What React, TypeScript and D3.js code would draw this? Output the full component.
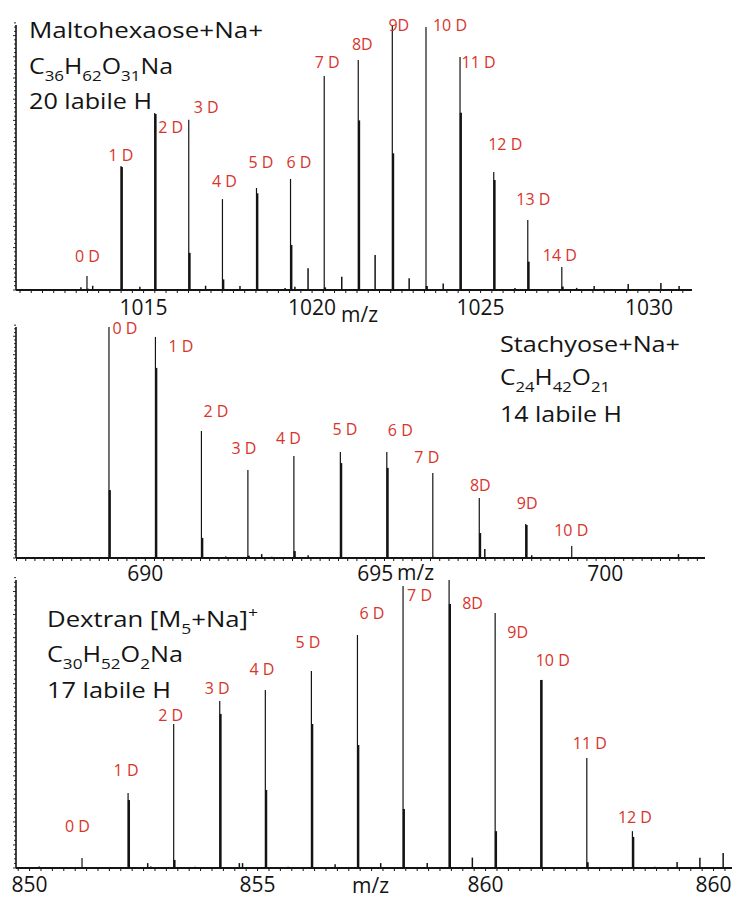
import React from "react";
import * as d3 from "d3";

// ---------------- DATA ----------------
// Panel 1: Maltohexaose+Na+
const topLabels = ["0 D", "1 D", "2 D", "3 D", "4 D", "5 D", "6 D", "7 D", "8D", "9D", "10 D", "11 D", "12 D", "13 D", "14 D"];
const topMz = [1013.32, 1014.33, 1015.33, 1016.34, 1017.34, 1018.35, 1019.36, 1020.36, 1021.37, 1022.38, 1023.38, 1024.39, 1025.39, 1026.4, 1027.41];
const topMain = [5.3, 46.8, 66.8, 64.2, 34.3, 38.5, 41.9, 80.8, 86.8, 100, 99.2, 87.9, 44.5, 26.4, 8.7];
const topShoulder = [0.5, 46.4, 66.4, 14, 4, 36.5, 17, 1, 64, 51.6, 1.5, 66.9, 41.5, 10.7, 1.3];
const topMinorMz = [1013.14, 1013.49, 1014.89, 1016.84, 1017.86, 1019.2, 1019.49, 1019.88, 1020.88, 1021.87, 1022.88, 1023.89, 1026.02, 1027.85, 1028.37, 1029.38, 1030.35, 1030.89];
const topMinorInt = [1.0, 1.6, 1.2, 1.6, 1.5, 0.8, 1.2, 8.2, 5.0, 13.2, 4.4, 2.5, 0.8, 0.8, 1.5, 2.3, 2.6, 1.5];
const topTicks = [1015, 1020, 1025, 1030];
const topTickLabels = ["1015", "1020", "1025", "1030"];

// Panel 2: Stachyose+Na+
const midLabels = ["0 D", "1 D", "2 D", "3 D", "4 D", "5 D", "6 D", "7 D", "8D", "9D", "10 D"];
const midMz = [689.21, 690.22, 691.22, 692.23, 693.23, 694.24, 695.25, 696.25, 697.26, 698.27, 699.27];
const midMain = [100, 95.7, 55, 38.1, 44.2, 45.9, 45.9, 36.8, 26, 14.7, 5.2];
const midShoulder = [29.4, 82.3, 8.7, 1, 3, 41.1, 39, 0.5, 10.8, 14.3, 0];
const midMinorMz = [691.75, 692.53, 692.75, 693.54, 697.38, 698.4, 700.28, 701.59];
const midMinorInt = [0.7, 1.7, 0.5, 1.2, 3.9, 1.2, 0.4, 1.7];
const midTicks = [690, 695, 700];
const midTickLabels = ["690", "695", "700"];

// Panel 3: Dextran [M5+Na]+
const botLabels = ["0 D", "1 D", "2 D", "3 D", "4 D", "5 D", "6 D", "7 D", "8D", "9D", "10 D", "11 D", "12 D"];
const botMz = [851.15, 852.16, 853.16, 854.17, 855.17, 856.18, 857.19, 858.19, 859.2, 860.21, 861.21, 862.22, 863.22];
const botMain = [3.5, 26, 50, 58, 61.8, 68.4, 80.9, 97.9, 100, 88.5, 65.3, 38.2, 12.8];
const botShoulder = [0, 23.6, 2.8, 53.5, 27.1, 50, 42.7, 20.5, 91.7, 12.8, 65.3, 2, 10.8];
const botMinorMz = [850.21, 852.59, 852.66, 853.63, 854.6, 854.67, 855.67, 856.7, 857.7, 858.72, 859.71, 863.71, 864.2, 864.7, 865.21];
const botMinorInt = [0.5, 1.7, 0.5, 0.4, 1.7, 1.7, 0.4, 1.3, 1.7, 1.7, 3.6, 0.4, 2.1, 3.6, 5.2];
const botTicks = [850, 855, 860, 865];
const botTickLabels = ["850", "855", "860", "860"];

// ---------------- LAYOUT ----------------
const W = 732;
const H = 899;
const RED = "#d8342c";
const INK = "#141414";
const FONT = "'Open Sans', 'Noto Sans', sans-serif";

type Seg = { t: string; k?: "sub" | "sup" };
type TitleLine = { segs: Seg[]; x: number; y: number; w: number };

const topTitle: TitleLine[] = [
  { segs: [{ t: "Maltohexaose+Na+" }], x: 29, y: 38, w: 234 },
  { segs: [{ t: "C" }, { t: "36", k: "sub" }, { t: "H" }, { t: "62", k: "sub" }, { t: "O" }, { t: "31", k: "sub" }, { t: "Na" }], x: 29, y: 74, w: 144 },
  { segs: [{ t: "20 labile H" }], x: 29, y: 109, w: 123 },
];
const midTitle: TitleLine[] = [
  { segs: [{ t: "Stachyose+Na+" }], x: 500, y: 352, w: 180 },
  { segs: [{ t: "C" }, { t: "24", k: "sub" }, { t: "H" }, { t: "42", k: "sub" }, { t: "O" }, { t: "21", k: "sub" }], x: 500, y: 385, w: 110 },
  { segs: [{ t: "14 labile H" }], x: 500, y: 422, w: 122 },
];
const botTitle: TitleLine[] = [
  { segs: [{ t: "Dextran [M" }, { t: "5", k: "sub" }, { t: "+Na]" }, { t: "+", k: "sup" }], x: 47, y: 627, w: 211 },
  { segs: [{ t: "C" }, { t: "30", k: "sub" }, { t: "H" }, { t: "52", k: "sub" }, { t: "O" }, { t: "2", k: "sub" }, { t: "Na" }], x: 47, y: 662, w: 136 },
  { segs: [{ t: "17 labile H" }], x: 47, y: 698, w: 124 },
];

// label nudges [dx, dy] in px relative to the peak top
const topNudge = [[0.5, -14], [0, -5], [16, 20], [17.5, -7], [2, -12], [4.5, -20], [8.5, -11], [3, -8], [4, -10], [6.5, 6], [24, 4], [18.5, 11], [11.5, -22], [5.5, -15], [-2, -6]];
const midNudge = [[16, 7], [25.5, 15], [14.5, -14], [-4, -16], [-5.5, -12], [4.5, -17], [13.5, -16], [-6, -10], [1, -7], [1.5, -15], [-0.5, -10]];
const botNudge = [[-4.5, -26], [-2, -17], [-3, -3], [-2.5, -7], [-3.5, -15], [-3.5, -23], [14.5, -16], [16.5, 15], [23.5, 29], [22.5, 25], [12, -14], [3, -9], [2.5, -8]];

type PanelCfg = {
  x0: number; x1: number; yTop: number; yBase: number;
  domain: [number, number]; minorStep: number;
  ticks: number[]; tickLabels: string[]; tickDy: number;
  mz: number[]; main: number[]; shoulder: number[]; labels: string[]; nudge: number[][];
  minorMz: number[]; minorInt: number[];
  mzLabel: { x: number; y: number };
  title: TitleLine[];
};

const panels: PanelCfg[] = [
  {
    x0: 16, x1: 692, yTop: 25, yBase: 290, domain: [1011.214, 1031.273], minorStep: 1 / 3,
    ticks: topTicks, tickLabels: topTickLabels, tickDy: 25,
    mz: topMz, main: topMain, shoulder: topShoulder, labels: topLabels, nudge: topNudge,
    minorMz: topMinorMz, minorInt: topMinorInt, mzLabel: { x: 341, y: 322 }, title: topTitle,
  },
  {
    x0: 16, x1: 705, yTop: 327, yBase: 558, domain: [687.189, 702.167], minorStep: 0.2,
    ticks: midTicks, tickLabels: midTickLabels, tickDy: 23,
    mz: midMz, main: midMain, shoulder: midShoulder, labels: midLabels, nudge: midNudge,
    minorMz: midMinorMz, minorInt: midMinorInt, mzLabel: { x: 397, y: 580 }, title: midTitle,
  },
  {
    x0: 16, x1: 732, yTop: 580, yBase: 868, domain: [849.702, 865.404], minorStep: 0.25,
    ticks: botTicks, tickLabels: botTickLabels, tickDy: 24,
    mz: botMz, main: botMain, shoulder: botShoulder, labels: botLabels, nudge: botNudge,
    minorMz: botMinorMz, minorInt: botMinorInt, mzLabel: { x: 352, y: 893 }, title: botTitle,
  },
];

function Title({ line, size }: { line: TitleLine; size: number }) {
  let shift = 0;
  const spans = line.segs.map((s, i) => {
    const target = s.k === "sub" ? 7 : s.k === "sup" ? -9 : 0;
    const dy = target - shift;
    shift = target;
    return (
      <tspan key={i} dy={dy} fontSize={s.k ? size * 0.68 : size}>
        {s.t}
      </tspan>
    );
  });
  return (
    <text x={line.x} y={line.y} fontSize={size} fill={INK} fontFamily={FONT} textLength={line.w} lengthAdjust="spacingAndGlyphs">
      {spans}
    </text>
  );
}

function Panel({ cfg }: { cfg: PanelCfg }) {
  const x = d3.scaleLinear().domain(cfg.domain).range([cfg.x0, cfg.x1]);
  const y = d3.scaleLinear().domain([0, 100]).range([cfg.yBase, cfg.yTop]);
  const k0 = Math.ceil(cfg.domain[0] / cfg.minorStep);
  const k1 = Math.floor(cfg.domain[1] / cfg.minorStep);
  const minorTicks = d3.range(k0, k1 + 1).map((k) => k * cfg.minorStep);
  const yTicks = d3.range(0, 101, 1.6);
  return (
    <g>
      {/* y axis */}
      <line x1={cfg.x0} x2={cfg.x0} y1={cfg.yTop} y2={cfg.yBase} stroke={INK} strokeWidth={1.6} />
      {yTicks.map((v, i) => (
        <line key={"yt" + i} x1={cfg.x0 - (i % 5 === 0 ? 3 : 2)} x2={cfg.x0} y1={y(v)} y2={y(v)} stroke={INK} strokeWidth={0.9} />
      ))}
      {/* x axis */}
      <line x1={cfg.x0} x2={cfg.x1} y1={cfg.yBase} y2={cfg.yBase} stroke={INK} strokeWidth={1.8} />
      {minorTicks.map((v, i) => (
        <line key={"xt" + i} x1={x(v)} x2={x(v)} y1={cfg.yBase} y2={cfg.yBase + 3} stroke={INK} strokeWidth={1} />
      ))}
      {cfg.ticks.map((v, i) => (
        <text key={"tl" + i} x={x(v)} y={cfg.yBase + cfg.tickDy} textAnchor="middle" fontSize={21} fill={INK} fontFamily={FONT}>
          {cfg.tickLabels[i]}
        </text>
      ))}
      <text x={cfg.mzLabel.x} y={cfg.mzLabel.y} fontSize={21} fill={INK} fontFamily={FONT}>
        m/z
      </text>
      {/* minor peaks */}
      {cfg.minorMz.map((m, i) => (
        <line key={"mp" + i} x1={x(m)} x2={x(m)} y1={cfg.yBase} y2={y(cfg.minorInt[i])} stroke={INK} strokeWidth={1.5} />
      ))}
      {/* labelled peaks: shoulder (thick) + apex (thin) */}
      {cfg.mz.map((m, i) => (
        <g key={"pk" + i}>
          {cfg.shoulder[i] > 0 && (
            <line x1={x(m) + 0.8} x2={x(m) + 0.8} y1={cfg.yBase} y2={y(cfg.shoulder[i])} stroke={INK} strokeWidth={2.2} />
          )}
          <line x1={x(m)} x2={x(m)} y1={cfg.yBase} y2={y(cfg.main[i])} stroke={INK} strokeWidth={1.2} />
          <text
            x={x(m) + cfg.nudge[i][0]}
            y={y(cfg.main[i]) + cfg.nudge[i][1]}
            textAnchor="middle"
            fontSize={16}
            fill={RED}
            fontFamily={FONT}
          >
            {cfg.labels[i]}
          </text>
        </g>
      ))}
      {cfg.title.map((t, i) => (
        <Title key={"ti" + i} line={t} size={22} />
      ))}
    </g>
  );
}

export default function App() {
  return (
    <div style={{ position: "absolute", left: 0, top: 0, width: W, height: H, background: "#fff" }}>
      <svg width={W} height={H} viewBox={`0 0 ${W} ${H}`} style={{ display: "block" }}>
        <rect x={0} y={0} width={W} height={H} fill="#fff" />
        {panels.map((p, i) => (
          <Panel key={i} cfg={p} />
        ))}
      </svg>
    </div>
  );
}
